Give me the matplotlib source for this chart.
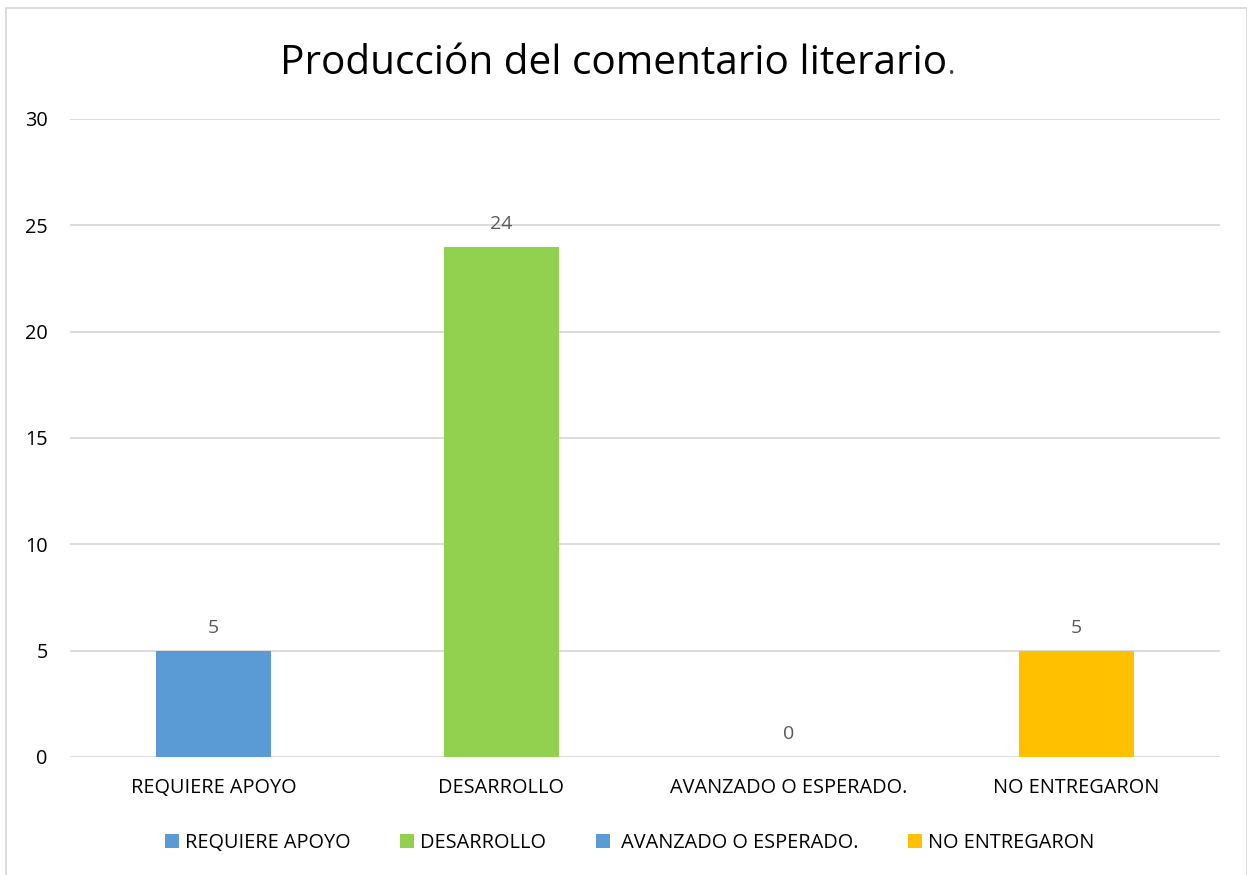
import matplotlib.pyplot as plt
from matplotlib.patches import Patch, Rectangle

# datos
categorias = ["REQUIERE APOYO", "DESARROLLO", "AVANZADO O ESPERADO.", "NO ENTREGARON"]
etiquetas_leyenda = ["REQUIERE APOYO", "DESARROLLO", " AVANZADO O ESPERADO.", "NO ENTREGARON"]
valores = [5, 24, 0, 5]
colores = ["#5B9BD5", "#92D050", "#5B9BD5", "#FFC000"]
ticks_y = [0, 5, 10, 15, 20, 25, 30]

plt.rcParams['font.family'] = ['Open Sans', 'DejaVu Sans']

fig = plt.figure(figsize=(12.47, 8.75), dpi=100)
ax = fig.add_axes([0.0561, 0.1349, 0.9223, 0.7291])

x = range(len(categorias))
ax.bar(x, valores, width=0.4, color=colores, zorder=3)
for xi, v in zip(x, valores):
    ax.annotate(str(v), (xi, v), xytext=(0, 10), textcoords="offset points",
                ha="center", va="bottom", fontsize=14, color="#595959")

ax.set_xlim(-0.5, 3.5)
ax.set_ylim(0, 30)
ax.set_yticks(ticks_y)
ax.set_xticks(list(x))
ax.set_xticklabels(categorias)
ax.tick_params(axis="both", length=0, labelsize=14.3, colors="#000000")
ax.tick_params(axis="x", pad=15)
ax.tick_params(axis="y", pad=16)
ax.grid(axis="y", color="#D9D9D9", linewidth=1.3, zorder=0)
for s in ax.spines.values():
    s.set_visible(False)

# titulo con el punto final mas pequeño
titulo = fig.text(280 / 1247, 1 - 74 / 875, "Producción del comentario literario",
                  ha="left", va="baseline", fontsize=29.2, color="#000000")
fig.canvas.draw()
bb = titulo.get_window_extent()
fig.text((bb.x1 + 1) / 1247, 1 - 74 / 875, ".", ha="left", va="baseline",
         fontsize=20, color="#404040")

# leyenda
handles = [Patch(facecolor=c, label=n) for c, n in zip(colores, etiquetas_leyenda)]
fig.legend(handles=handles, loc="center", bbox_to_anchor=(0.505, 0.037), ncol=4,
           frameon=False, fontsize=14.3, handlelength=0.7, handleheight=0.7,
           handletextpad=0.3, columnspacing=2.5)

# borde del area del grafico
fig.patches.append(Rectangle((0.005, -0.01), 0.995, 1.001, transform=fig.transFigure,
                             fill=False, edgecolor="#D9D9D9", linewidth=1.3))

fig.savefig("out.png", dpi=100)
